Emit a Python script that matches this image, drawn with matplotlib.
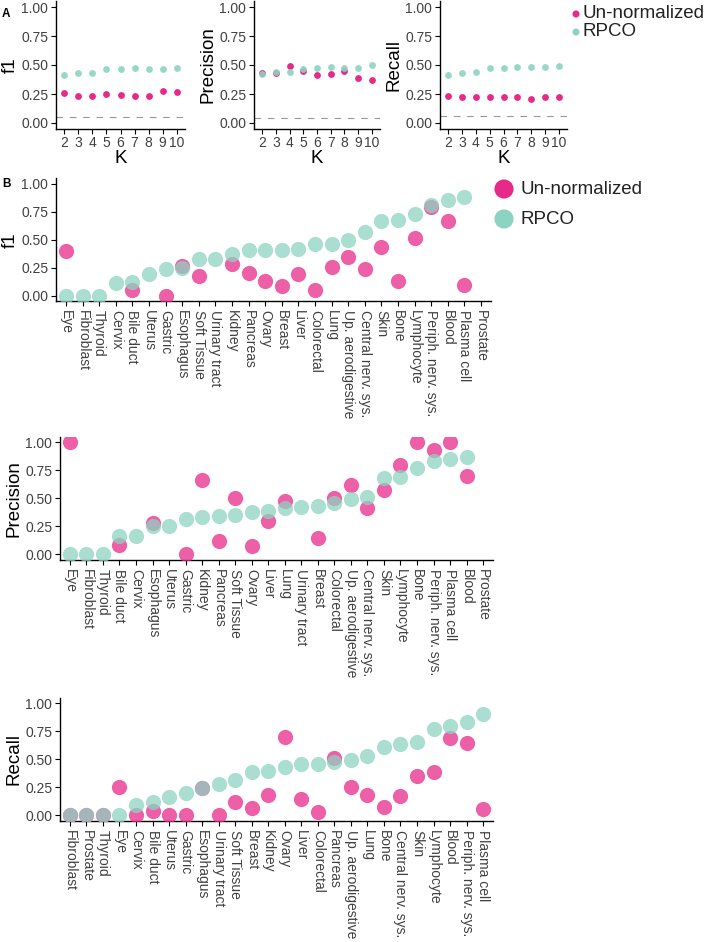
import numpy as np
import matplotlib
matplotlib.use("Agg")
import matplotlib.pyplot as plt

plt.rcParams['font.family'] = ['Liberation Sans', 'DejaVu Sans']

nan = np.nan
W, H = 709, 942

# colours
PINK = '#E7298A'
TEAL = '#8DD3C1'

# --- panel A: metric vs K ---
K = ['2', '3', '4', '5', '6', '7', '8', '9', '10']
a_f1_un = [0.256, 0.233, 0.233, 0.253, 0.24, 0.23, 0.23, 0.28, 0.27]
a_f1_rpco = [0.41, 0.43, 0.43, 0.465, 0.465, 0.47, 0.465, 0.465, 0.47]
a_prec_un = [0.43, 0.43, 0.49, 0.45, 0.415, 0.42, 0.448, 0.39, 0.37]
a_prec_rpco = [0.42, 0.437, 0.437, 0.465, 0.47, 0.48, 0.475, 0.475, 0.497]
a_rec_un = [0.233, 0.22, 0.22, 0.227, 0.22, 0.22, 0.207, 0.225, 0.225]
a_rec_rpco = [0.41, 0.43, 0.44, 0.477, 0.477, 0.485, 0.485, 0.485, 0.49]
baseline = [0.05, 0.04, 0.06]  # f1, precision, recall

# --- panel B: per tissue ---
f1_tissues = ["Eye", "Fibroblast", "Thyroid", "Cervix", "Bile duct", "Uterus", "Gastric",
              "Esophagus", "Soft Tissue", "Urinary tract", "Kidney", "Pancreas", "Ovary",
              "Breast", "Liver", "Colorectal", "Lung", "Up. aerodigestive",
              "Central nerv. sys.", "Skin", "Bone", "Lymphocyte", "Periph. nerv. sys.",
              "Blood", "Plasma cell", "Prostate"]
f1_rpco = [0, 0, 0, 0.116, 0.125, 0.194, 0.24, 0.245, 0.33, 0.33, 0.37, 0.41, 0.41,
           0.41, 0.42, 0.463, 0.463, 0.5, 0.57, 0.67, 0.68, 0.73, 0.81, 0.857, 0.887, nan]
f1_un = [0.40, nan, nan, nan, 0.05, nan, 0.0, 0.265, 0.18, nan, 0.28, 0.2, 0.134,
         0.087, 0.19, 0.05, 0.26, 0.35, 0.24, 0.44, 0.134, 0.52, 0.79, 0.67, 0.095, nan]

prec_tissues = ["Eye", "Fibroblast", "Thyroid", "Bile duct", "Cervix", "Esophagus", "Uterus",
                "Gastric", "Kidney", "Pancreas", "Soft Tissue", "Ovary", "Liver", "Lung",
                "Urinary tract", "Breast", "Colorectal", "Up. aerodigestive",
                "Central nerv. sys.", "Skin", "Lymphocyte", "Bone", "Periph. nerv. sys.",
                "Plasma cell", "Blood", "Prostate"]
prec_rpco = [0, 0, 0, 0.164, 0.167, 0.253, 0.253, 0.315, 0.336, 0.345, 0.354, 0.378, 0.387,
             0.41, 0.42, 0.43, 0.455, 0.497, 0.51, 0.685, 0.693, 0.768, 0.833, 0.854, 0.87, nan]
prec_un = [1.0, nan, nan, 0.083, nan, 0.277, nan, 0.0, 0.664, 0.122, 0.5, 0.077, 0.3,
           0.476, nan, 0.143, 0.5, 0.62, 0.417, 0.574, 0.8, 1.0, 0.93, 1.0, 0.70, nan]

rec_tissues = ["Fibroblast", "Prostate", "Thyroid", "Eye", "Cervix", "Bile duct", "Uterus",
               "Gastric", "Esophagus", "Urinary tract", "Soft Tissue", "Breast", "Kidney",
               "Ovary", "Liver", "Colorectal", "Pancreas", "Up. aerodigestive", "Lung", "Bone",
               "Central nerv. sys.", "Skin", "Lymphocyte", "Blood", "Periph. nerv. sys.",
               "Plasma cell"]
rec_rpco = [0, 0, 0, 0, 0.09, 0.113, 0.158, 0.194, 0.239, 0.278, 0.313, 0.385, 0.397,
            0.427, 0.454, 0.457, 0.478, 0.493, 0.53, 0.61, 0.636, 0.654, 0.767, 0.797,
            0.836, 0.904]
rec_un = [0, 0, 0, 0.254, 0, 0.036, 0, 0, 0.24, 0, 0.116, 0.066, 0.18, 0.696, 0.14,
          0.03, 0.507, 0.248, 0.18, 0.075, 0.17, 0.352, 0.382, 0.693, 0.642, 0.054]

fig = plt.figure(figsize=(W / 100, H / 100), dpi=100)


def px_axes(l, t, r, b):
    # pixel box (from top-left) -> figure axes
    return fig.add_axes([l / W, 1 - b / H, (r - l) / W, (b - t) / H])


def style(ax, ylabel, ncat):
    ax.set_ylim(-0.05, 1.05)
    ax.set_xlim(-0.6, ncat - 1 + 0.6)
    ax.set_yticks([0, 0.25, 0.5, 0.75, 1.0])
    ax.set_yticklabels(['0.00', '0.25', '0.50', '0.75', '1.00'])
    for s in ['top', 'right']:
        ax.spines[s].set_visible(False)
    for s in ['left', 'bottom']:
        ax.spines[s].set_linewidth(1.0)
    ax.tick_params(length=3.5, width=0.8, labelsize=10, labelcolor='#404040', pad=2)
    ax.set_ylabel(ylabel, fontsize=13.5, labelpad=2)


# panel A
a_boxes = [(56, 1.2, 185, 128.8), (254, 1.2, 380, 128.8), (440, 1.2, 567, 128.8)]
a_data = [("f1", a_f1_un, a_f1_rpco), ("Precision", a_prec_un, a_prec_rpco),
          ("Recall", a_rec_un, a_rec_rpco)]
for box, (name, un, rp), base in zip(a_boxes, a_data, baseline):
    ax = px_axes(*box)
    ax.scatter(K, un, s=24, color=PINK, linewidths=0, zorder=3)
    ax.scatter(K, rp, s=24, color=TEAL, alpha=0.9, linewidths=0, zorder=4)
    ax.axhline(base, color='#999999', lw=0.8, dashes=(6, 6), zorder=2)
    style(ax, name, len(K))
    ax.set_xlabel("K", fontsize=13.5, labelpad=0)

# panel B
b_boxes = [(56, 178.4, 491, 301.3), (60, 436.7, 493, 559.9), (60, 697.7, 493, 820.6)]
b_data = [("f1", f1_tissues, f1_un, f1_rpco), ("Precision", prec_tissues, prec_un, prec_rpco),
          ("Recall", rec_tissues, rec_un, rec_rpco)]
for box, (name, cats, un, rp) in zip(b_boxes, b_data):
    ax = px_axes(*box)
    ax.scatter(cats, un, s=120, color=PINK, alpha=0.75, linewidths=0, zorder=3)
    ax.scatter(cats, rp, s=120, color=TEAL, alpha=0.75, linewidths=0, zorder=4)
    style(ax, name, len(cats))
    ax.set_xticks(range(len(cats)))
    ax.set_xticklabels(cats, rotation=270, ha='center', va='top')
    ax.tick_params(axis='x', pad=3)

# legends and panel letters, drawn in pixel space
ov = fig.add_axes([0, 0, 1, 1])
ov.set_xlim(0, W)
ov.set_ylim(H, 0)
ov.axis('off')
ov.scatter([576, 576], [14, 32], s=26, color=[PINK, TEAL], linewidths=0)
ov.text(583, 14, "Un-normalized", fontsize=13.5, va='center', ha='left', color='#222222')
ov.text(583, 32, "RPCO", fontsize=13.5, va='center', ha='left', color='#222222')
ov.scatter([504, 504], [189, 219], s=190, color=[PINK, TEAL], linewidths=0)
ov.text(521, 189, "Un-normalized", fontsize=13.5, va='center', ha='left', color='#222222')
ov.text(521, 219, "RPCO", fontsize=13.5, va='center', ha='left', color='#222222')
ov.text(2, 14, "A", fontsize=8.5, fontweight='bold', va='center', ha='left')
ov.text(2, 184, "B", fontsize=8.5, fontweight='bold', va='center', ha='left')

fig.savefig("out.png", dpi=100)
